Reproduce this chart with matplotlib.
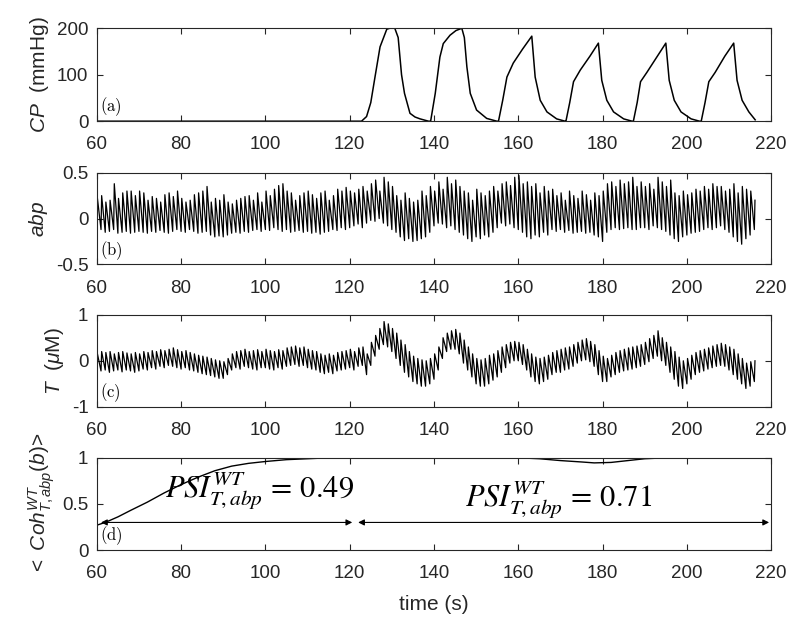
import numpy as np
import matplotlib
matplotlib.use('Agg')
import matplotlib.pyplot as plt

plt.rcParams['font.family'] = ['Liberation Sans', 'DejaVu Sans']
plt.rcParams['mathtext.fontset'] = 'custom'
plt.rcParams['mathtext.rm'] = 'Liberation Sans'
plt.rcParams['mathtext.it'] = 'Liberation Sans:italic'
plt.rcParams['mathtext.bf'] = 'Liberation Sans:bold'

# ---------------- datos ----------------
# (a) presion del manguito CP (mmHg)
cp_t = [60, 122.8, 124, 125, 126, 127.2, 128.8, 129.5, 130.7, 131.5, 132.3, 133, 134.3, 135.5, 136.7, 138.7,
        139.2, 140.3, 141.4, 142.2, 143.8, 145.2, 146.6, 147.2, 147.8, 148.6, 150.1, 152.5, 154.9,
        155.3, 156.3, 157.3, 158.8, 161, 163.2, 164, 165.2, 166.8, 169.1, 171.1,
        171.3, 172.2, 173.1, 174.7, 177, 179.0, 179.8, 181.0, 182.6, 185, 187,
        187.3, 188.2, 189, 190.5, 193, 195.0, 195.8, 197, 198.6, 201, 203,
        203.4, 204.3, 205.2, 206.7, 209, 211.1, 211.9, 213.1, 214.7, 216.2]
cp_v = [0, 0, 10, 40, 95, 160, 198, 200, 200, 180, 100, 60, 17, 9, 5, 0,
        0, 60, 138, 167, 185, 195, 200, 180, 117, 60, 24, 6, 0,
        0, 45, 95, 125, 155, 183, 95, 45, 20, 5, 0,
        0, 40, 85, 110, 140, 168, 88, 45, 20, 5, 0,
        0, 40, 85, 105, 140, 168, 88, 45, 20, 5, 0,
        0, 40, 85, 105, 140, 168, 88, 45, 20, 3]

# (b) abp: picos y valles de cada latido, t = 60..216 s
abp_picos = [0.22, 0.25, 0.18, 0.20, 0.38, 0.22, 0.28, 0.30, 0.30, 0.25,
             0.30, 0.28, 0.20, 0.24, 0.22, 0.18, 0.26, 0.28, 0.24, 0.30,
             0.22, 0.18, 0.20, 0.26, 0.28, 0.30, 0.35, 0.18, 0.22, 0.20,
             0.26, 0.18, 0.16, 0.20, 0.22, 0.24, 0.25, 0.20, 0.28, 0.18,
             0.30, 0.25, 0.32, 0.36, 0.38, 0.30, 0.28, 0.20, 0.25, 0.28,
             0.30, 0.26, 0.22, 0.28, 0.30, 0.20, 0.25, 0.32, 0.30, 0.34,
             0.30, 0.28, 0.32, 0.35, 0.30, 0.38, 0.42, 0.30, 0.45, 0.40,
             0.35, 0.25, 0.20, 0.28, 0.22, 0.18, 0.20, 0.30, 0.25, 0.35,
             0.30, 0.40, 0.32, 0.45, 0.38, 0.42, 0.35, 0.30, 0.28, 0.20,
             0.32, 0.28, 0.25, 0.30, 0.35, 0.30, 0.38, 0.40, 0.36, 0.45,
             0.47, 0.38, 0.40, 0.35, 0.38, 0.28, 0.35, 0.30, 0.32, 0.25,
             0.28, 0.20, 0.30, 0.25, 0.22, 0.30, 0.26, 0.20, 0.28, 0.25,
             0.30, 0.38, 0.40, 0.35, 0.42, 0.38, 0.40, 0.45, 0.35, 0.40,
             0.35, 0.38, 0.32, 0.45, 0.40, 0.35, 0.42, 0.28, 0.25, 0.30,
             0.26, 0.28, 0.32, 0.30, 0.35, 0.32, 0.38, 0.35, 0.35, 0.30,
             0.32, 0.38, 0.28, 0.35, 0.32, 0.30, 0.20]
abp_valles = [-0.15, -0.12, -0.15, -0.14, -0.12, -0.16, -0.15, -0.14, -0.16, -0.15,
              -0.14, -0.15, -0.16, -0.14, -0.15, -0.13, -0.15, -0.16, -0.14, -0.12,
              -0.14, -0.15, -0.12, -0.14, -0.16, -0.15, -0.14, -0.18, -0.20, -0.19,
              -0.20, -0.18, -0.16, -0.15, -0.16, -0.14, -0.15, -0.13, -0.12, -0.14,
              -0.12, -0.13, -0.10, -0.12, -0.14, -0.12, -0.15, -0.14, -0.13, -0.15,
              -0.14, -0.16, -0.15, -0.17, -0.15, -0.14, -0.12, -0.13, -0.10, -0.12,
              -0.10, -0.08, -0.06, -0.10, -0.05, -0.02, -0.03, 0.00, -0.05, -0.08,
              -0.12, -0.15, -0.20, -0.24, -0.22, -0.25, -0.24, -0.22, -0.20, -0.15,
              -0.08, -0.05, -0.06, -0.10, -0.08, -0.12, -0.15, -0.18, -0.22, -0.25,
              -0.20, -0.22, -0.18, -0.20, -0.15, -0.10, -0.05, -0.08, -0.06, -0.10,
              -0.12, -0.15, -0.20, -0.22, -0.18, -0.20, -0.15, -0.18, -0.12, -0.14,
              -0.12, -0.15, -0.13, -0.16, -0.15, -0.14, -0.16, -0.15, -0.18, -0.20,
              -0.25, -0.15, -0.12, -0.10, -0.12, -0.11, -0.10, -0.12, -0.12, -0.10,
              -0.10, -0.12, -0.08, -0.10, -0.12, -0.14, -0.18, -0.22, -0.25, -0.20,
              -0.18, -0.16, -0.15, -0.14, -0.12, -0.10, -0.12, -0.10, -0.08, -0.12,
              -0.15, -0.20, -0.25, -0.28, -0.22, -0.18, -0.12]

# (c) T (uM): borde superior e inferior de la banda, t = 60..216 s
T_sup = [0.15, 0.20, 0.18, 0.20, 0.15, 0.18, 0.20, 0.17, 0.15, 0.18,
         0.15, 0.20, 0.18, 0.22, 0.20, 0.24, 0.22, 0.25, 0.28, 0.24,
         0.20, 0.22, 0.18, 0.15, 0.12, 0.10, 0.08, 0.05, 0.02, 0.00,
         -0.02, 0.05, 0.15, 0.20, 0.22, 0.25, 0.20, 0.22, 0.24, 0.20,
         0.25, 0.22, 0.20, 0.24, 0.22, 0.28, 0.30, 0.32, 0.28, 0.30,
         0.25, 0.22, 0.20, 0.15, 0.12, 0.15, 0.12, 0.18, 0.20, 0.22,
         0.25, 0.20, 0.28, 0.30, 0.15, 0.40, 0.55, 0.70, 0.85, 0.80,
         0.70, 0.60, 0.45, 0.35, 0.20, 0.10, 0.05, 0.02, 0.00, 0.05,
         0.15, 0.30, 0.50, 0.60, 0.65, 0.68, 0.60, 0.45, 0.30, 0.15,
         0.05, 0.02, 0.05, 0.12, 0.15, 0.22, 0.30, 0.35, 0.40, 0.42,
         0.40, 0.35, 0.25, 0.15, 0.08, 0.05, 0.08, 0.12, 0.18, 0.22,
         0.25, 0.28, 0.30, 0.35, 0.40, 0.45, 0.48, 0.42, 0.35, 0.22,
         0.10, 0.05, 0.12, 0.18, 0.22, 0.25, 0.28, 0.30, 0.32, 0.35,
         0.40, 0.48, 0.55, 0.65, 0.50, 0.40, 0.30, 0.20, 0.08, 0.00,
         0.05, 0.12, 0.18, 0.22, 0.25, 0.28, 0.32, 0.35, 0.38, 0.35,
         0.30, 0.25, 0.15, 0.05, -0.05, -0.02, 0.00]
T_inf = [-0.30, -0.22, -0.20, -0.25, -0.22, -0.20, -0.24, -0.20, -0.22, -0.25,
         -0.22, -0.18, -0.20, -0.15, -0.18, -0.12, -0.15, -0.10, -0.12, -0.15,
         -0.18, -0.15, -0.20, -0.22, -0.25, -0.28, -0.30, -0.32, -0.35, -0.38,
         -0.38, -0.30, -0.20, -0.15, -0.18, -0.12, -0.15, -0.18, -0.20, -0.15,
         -0.15, -0.18, -0.20, -0.15, -0.18, -0.12, -0.10, -0.08, -0.12, -0.10,
         -0.15, -0.18, -0.20, -0.25, -0.28, -0.25, -0.28, -0.22, -0.20, -0.18,
         -0.15, -0.20, -0.12, -0.10, -0.30, -0.10, 0.10, 0.25, 0.35, 0.30,
         0.20, 0.05, -0.10, -0.25, -0.35, -0.45, -0.50, -0.55, -0.55, -0.50,
         -0.40, -0.20, 0.05, 0.20, 0.25, 0.25, 0.15, -0.05, -0.20, -0.35,
         -0.50, -0.55, -0.55, -0.50, -0.42, -0.35, -0.25, -0.15, -0.05, 0.00,
         0.00, -0.08, -0.20, -0.35, -0.45, -0.50, -0.45, -0.40, -0.30, -0.25,
         -0.25, -0.20, -0.18, -0.12, -0.05, 0.00, 0.02, -0.02, -0.12, -0.30,
         -0.45, -0.45, -0.35, -0.30, -0.25, -0.22, -0.20, -0.18, -0.15, -0.12,
         -0.08, -0.02, 0.05, 0.10, 0.00, -0.10, -0.25, -0.40, -0.55, -0.60,
         -0.50, -0.40, -0.30, -0.25, -0.22, -0.18, -0.15, -0.12, -0.10, -0.12,
         -0.20, -0.30, -0.40, -0.50, -0.60, -0.55, -0.45]

# (d) coherencia promedio
coh_t = [60, 62, 65, 68, 72, 76, 80, 84, 88, 92, 96, 100, 105, 110, 115, 120,
         160, 165, 170, 175, 178, 182, 186, 190, 195, 220]
coh_v = [0.27, 0.30, 0.36, 0.43, 0.52, 0.62, 0.71, 0.79, 0.86, 0.91, 0.94, 0.96, 0.98, 0.99, 1.0, 1.0,
         1.0, 0.99, 0.97, 0.955, 0.945, 0.95, 0.97, 0.99, 1.0, 1.0]
psi_valores = [0.49, 0.71]
psi_rangos = [(61, 120.6), (122, 219.5)]

# ---------------- figura ----------------
# subida rapida y bajada lenta en cada latido
latidos = np.arange(60, 60 + len(abp_picos))
t_lat = np.column_stack([latidos, latidos + 0.15]).ravel()
y_abp = np.column_stack([abp_valles, abp_picos]).ravel()
y_T = np.column_stack([T_inf, T_sup]).ravel()

fig = plt.figure(figsize=(8, 6.28), dpi=100)
gris = '#262626'
posiciones = [[0.121, 0.807, 0.843, 0.148],
              [0.121, 0.579, 0.843, 0.146],
              [0.121, 0.352, 0.843, 0.147],
              [0.121, 0.124, 0.843, 0.147]]
axs = [fig.add_axes(p) for p in posiciones]

axs[0].plot(cp_t, cp_v, color='black', lw=1.1)
axs[0].set_ylim(0, 200)
axs[0].set_yticks([0, 100, 200])
axs[0].set_ylabel(r'$CP$  (mmHg)', fontsize=15)

axs[1].plot(t_lat, y_abp, color='black', lw=0.9)
axs[1].set_ylim(-0.5, 0.5)
axs[1].set_yticks([-0.5, 0, 0.5])
axs[1].set_yticklabels(['-0.5', '0', '0.5'])
axs[1].set_ylabel(r'$abp$', fontsize=15)

axs[2].plot(t_lat, y_T, color='black', lw=0.9)
axs[2].set_ylim(-1, 1)
axs[2].set_yticks([-1, 0, 1])
axs[2].set_yticklabels(['-1', '0', '1'])
axs[2].set_ylabel(r'$T$  ($\mu$M)', fontsize=15)

axs[3].plot(coh_t, coh_v, color='black', lw=1.0)
axs[3].set_ylim(0, 1)
axs[3].set_yticks([0, 0.5, 1])
axs[3].set_yticklabels(['0', '0.5', '1'])
axs[3].set_ylabel(r'$<\ Coh^{WT}_{T,abp}(b)$>', fontsize=15)
axs[3].set_xlabel('time (s)', fontsize=15, color=gris, labelpad=9)
for (x0, x1), val in zip(psi_rangos, psi_valores):
    axs[3].annotate('', xy=(x0, 0.3), xytext=(x1, 0.3),
                    arrowprops=dict(arrowstyle='<|-|>', color='black', lw=0.8,
                                    mutation_scale=9, shrinkA=0, shrinkB=0))
axs[3].text(98.5, 0.64, r'$PSI_{T,abp}^{WT}\, =\, \mathrm{%.2f}$' % psi_valores[0],
            ha='center', va='center', fontsize=22, math_fontfamily='stix')
axs[3].text(169.5, 0.55, r'$PSI_{T,abp}^{WT}\, =\, \mathrm{%.2f}$' % psi_valores[1],
            ha='center', va='center', fontsize=22, math_fontfamily='stix')

for ax, letra in zip(axs, 'abcd'):
    ax.set_xlim(60, 220)
    ax.set_xticks(range(60, 221, 20))
    ax.tick_params(direction='in', top=True, right=True, length=4, width=0.8,
                   labelsize=13.5, colors=gris)
    ax.tick_params(axis='x', pad=11)
    ax.tick_params(axis='y', pad=6)
    for s in ax.spines.values():
        s.set_color(gris)
        s.set_linewidth(0.8)
    ax.yaxis.label.set_color(gris)
    ax.text(0.005, 0.03, r'$\mathrm{(%s)}$' % letra, transform=ax.transAxes,
            fontsize=12, math_fontfamily='cm', ha='left', va='bottom')

fig.savefig('out.png', dpi=100)
